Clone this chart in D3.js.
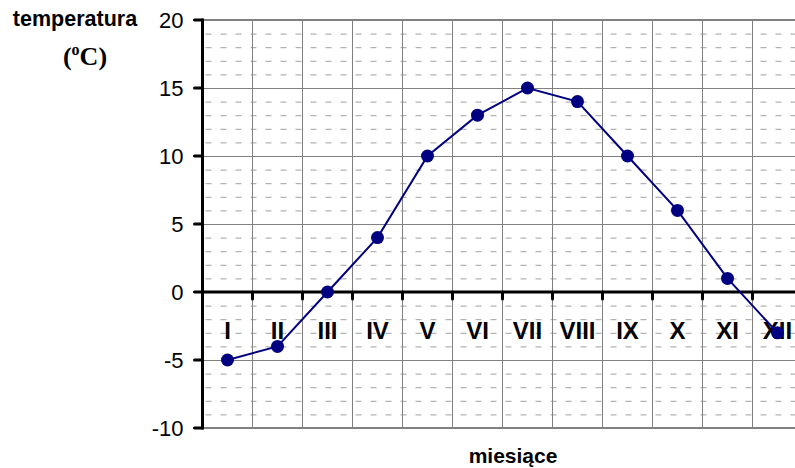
<!DOCTYPE html>
<html>
<head>
<meta charset="utf-8">
<script src="https://cdn.jsdelivr.net/npm/d3@7"></script>
<style>
  body { margin: 0; background: #fff; }
  svg { display: block; }
</style>
</head>
<body>
<div id="chart"></div>
<script>
// Monthly mean temperature
const months = ["I", "II", "III", "IV", "V", "VI", "VII", "VIII", "IX", "X", "XI", "XII"];
const temps = [-5, -4, 0, 4, 10, 13, 15, 14, 10, 6, 1, -3];
const yTicks = [-10, -5, 0, 5, 10, 15, 20];

const width = 795;
const height = 468;

const svg = d3.select("#chart")
  .append("svg")
  .attr("width", width)
  .attr("height", height);

// plot area runs past the right edge of the picture
const x = d3.scaleBand().domain(months).range([202.5, 802.5]);
const y = d3.scaleLinear().domain([-10, 20]).range([428, 20]);

const left = x.range()[0];
const right = x.range()[1];

// minor dashed grid (every 1 degree)
const minor = d3.range(-10, 21).filter((v) => v % 5 !== 0);
svg.append("g")
  .selectAll("line")
  .data(minor)
  .join("line")
  .attr("x1", left)
  .attr("x2", right)
  .attr("y1", (d) => y(d) + 0.5)
  .attr("y2", (d) => y(d) + 0.5)
  .attr("stroke", "#a0a0a0")
  .attr("stroke-width", 1)
  .attr("stroke-dasharray", "6,9")
  .attr("stroke-dashoffset", -3);

// major horizontal grid
svg.append("g")
  .selectAll("line")
  .data(yTicks.filter((v) => v !== 0 && v !== -10 && v !== 20))
  .join("line")
  .attr("x1", left)
  .attr("x2", right)
  .attr("y1", (d) => y(d) + 0.5)
  .attr("y2", (d) => y(d) + 0.5)
  .attr("stroke", "#808080")
  .attr("stroke-width", 1);

// vertical grid at category boundaries
const bounds = months.slice(1).map((m) => x(m));
svg.append("g")
  .selectAll("line")
  .data(bounds)
  .join("line")
  .attr("x1", (d) => d)
  .attr("x2", (d) => d)
  .attr("y1", y(20))
  .attr("y2", y(-10))
  .attr("stroke", "#808080")
  .attr("stroke-width", 1);

// frame top and bottom
svg.append("g")
  .selectAll("line")
  .data([20, -10])
  .join("line")
  .attr("x1", left)
  .attr("x2", right)
  .attr("y1", (d) => y(d))
  .attr("y2", (d) => y(d))
  .attr("stroke", "#808080")
  .attr("stroke-width", 2);

// y axis
const yAxis = svg.append("g");
yAxis.append("line")
  .attr("x1", left).attr("x2", left)
  .attr("y1", y(20) - 1.5).attr("y2", y(-10) + 1.5)
  .attr("stroke", "#000").attr("stroke-width", 3);
yAxis.selectAll(".tick")
  .data(yTicks)
  .join("line")
  .attr("x1", left - 8).attr("x2", left)
  .attr("y1", (d) => y(d)).attr("y2", (d) => y(d))
  .attr("stroke", "#000").attr("stroke-width", 3)
  .attr("stroke-linecap", "round");
yAxis.selectAll("text")
  .data(yTicks)
  .join("text")
  .attr("x", left - 19)
  .attr("y", (d) => y(d))
  .attr("dy", "0.36em")
  .attr("text-anchor", "end")
  .attr("font-family", "Liberation Sans, Arial, sans-serif")
  .attr("font-size", "22px")
  .attr("fill", "#000")
  .text((d) => d);

// zero line with ticks
const zero = svg.append("g");
zero.append("line")
  .attr("x1", left).attr("x2", right)
  .attr("y1", y(0)).attr("y2", y(0))
  .attr("stroke", "#000").attr("stroke-width", 3);
zero.selectAll("line.tk")
  .data(bounds)
  .join("line")
  .attr("class", "tk")
  .attr("x1", (d) => d).attr("x2", (d) => d)
  .attr("y1", y(0)).attr("y2", y(0) + 7)
  .attr("stroke", "#000").attr("stroke-width", 3)
  .attr("stroke-linecap", "round");

// month labels
svg.append("g")
  .selectAll("text")
  .data(months)
  .join("text")
  .attr("x", (d) => x(d) + x.bandwidth() / 2)
  .attr("y", 338.5)
  .attr("text-anchor", "middle")
  .attr("font-family", "Liberation Sans, Arial, sans-serif")
  .attr("font-weight", "bold")
  .attr("font-size", "24px")
  .attr("fill", "#000")
  .text((d) => d);

// series
const line = d3.line()
  .x((d, i) => x(months[i]) + x.bandwidth() / 2)
  .y((d) => y(d));

svg.append("path")
  .datum(temps)
  .attr("d", line)
  .attr("fill", "none")
  .attr("stroke", "#000080")
  .attr("stroke-width", 2);

svg.append("g")
  .selectAll("circle")
  .data(temps)
  .join("circle")
  .attr("cx", (d, i) => x(months[i]) + x.bandwidth() / 2)
  .attr("cy", (d) => y(d))
  .attr("r", 6.5)
  .attr("fill", "#000080");

// axis titles
svg.append("text")
  .attr("x", 75)
  .attr("y", 26)
  .attr("text-anchor", "middle")
  .attr("font-family", "Liberation Sans, Arial, sans-serif")
  .attr("font-weight", "bold")
  .attr("font-size", "21.5px")
  .text("temperatura");

const unit = svg.append("text")
  .attr("x", 85)
  .attr("y", 65)
  .attr("text-anchor", "middle")
  .attr("font-family", "Liberation Serif, Times New Roman, serif")
  .attr("font-weight", "bold")
  .attr("font-size", "26px");
unit.append("tspan").text("(");
unit.append("tspan").attr("font-size", "16px").attr("dy", -10).text("o");
unit.append("tspan").attr("dy", 10).text("C)");

svg.append("text")
  .attr("x", 513)
  .attr("y", 463)
  .attr("text-anchor", "middle")
  .attr("font-family", "Liberation Sans, Arial, sans-serif")
  .attr("font-weight", "bold")
  .attr("font-size", "21px")
  .text("miesiące");
</script>
</body>
</html>
